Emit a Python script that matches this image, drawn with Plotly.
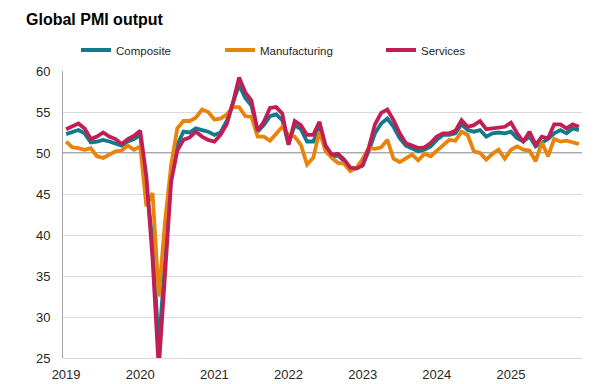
import plotly.graph_objects as go

# ---- data -------------------------------------------------------------
years = [2019, 2020, 2021, 2022, 2023, 2024, 2025]
month_names = ["Jan", "Feb", "Mar", "Apr", "May", "Jun",
               "Jul", "Aug", "Sep", "Oct", "Nov", "Dec"]
months = [f"{m} {y}" for y in years for m in month_names]
year_ticks = [f"Jan {y}" for y in years]
year_labels = [str(y) for y in years]

composite = [
    52.3, 52.6, 52.8, 52.4, 51.3, 51.4, 51.6, 51.4, 51.2, 50.9, 51.4, 51.7,
    52.2, 46.1, 39.4, 26.2, 36.3, 47.5, 51.0, 52.6, 52.5, 53.0, 52.8, 52.6,
    52.2, 52.5, 53.9, 56.0, 58.3, 56.7, 55.8, 52.6, 53.4, 54.5, 54.7, 54.0,
    51.1, 53.4, 52.9, 51.4, 51.4, 53.0, 50.6, 49.5, 49.7, 49.0, 48.1, 48.2,
    48.5, 50.3, 52.4, 53.6, 54.2, 53.2, 51.8, 50.9, 50.6, 50.2, 50.4, 50.8,
    51.6, 52.2, 52.2, 52.4, 53.5, 52.8, 52.6, 52.8, 52.0, 52.4, 52.5, 52.4,
    52.6, 51.8, 51.4, 52.0, 50.8, 51.2, 51.7, 52.4, 52.8, 52.4, 53.0, 52.8,
]
manufacturing = [
    51.4, 50.7, 50.6, 50.4, 50.6, 49.6, 49.4, 49.8, 50.2, 50.3, 50.9, 50.4,
    50.8, 43.5, 45.1, 32.5, 41.5, 48.5, 53.0, 53.9, 53.9, 54.3, 55.3, 55.0,
    54.1, 54.2, 54.7, 55.6, 55.6, 54.5, 54.4, 52.0, 52.0, 51.5, 52.3, 53.2,
    52.2, 52.0, 51.0, 48.6, 49.4, 52.6, 50.2, 49.4, 48.8, 48.7, 47.8, 48.2,
    49.3, 50.6, 50.5, 50.7, 51.6, 49.3, 48.9, 49.4, 49.8, 49.1, 49.9, 49.6,
    50.3, 51.0, 51.6, 51.5, 52.6, 52.2, 50.2, 50.0, 49.2, 49.9, 50.4, 49.3,
    50.4, 50.8, 50.4, 50.3, 49.0, 51.3, 49.6, 51.7, 51.4, 51.5, 51.3, 51.1,
]
services = [
    52.9, 53.3, 53.6, 53.0, 51.7, 52.0, 52.5, 52.0, 51.7, 51.1, 51.7, 52.1,
    52.7, 47.1, 37.0, 23.7, 35.0, 46.5, 50.3, 51.6, 51.9, 52.6, 52.0, 51.6,
    51.4, 52.2, 53.5, 56.1, 59.2, 57.4, 56.4, 52.7, 53.8, 55.5, 55.6, 54.8,
    51.0, 53.9, 53.4, 52.2, 52.2, 53.8, 50.9, 49.8, 49.9, 49.2, 48.2, 48.1,
    48.5, 50.7, 53.5, 54.9, 55.3, 54.0, 52.4, 51.2, 50.9, 50.6, 50.7, 51.2,
    52.0, 52.4, 52.4, 52.7, 54.0, 53.2, 53.4, 53.9, 52.9, 53.0, 53.1, 53.2,
    53.7, 52.4, 51.4, 52.6, 51.0, 52.0, 51.8, 53.5, 53.5, 53.0, 53.5, 53.2,
]

series_names = ["Composite", "Manufacturing", "Services"]
series_values = [composite, manufacturing, services]
series_colors = ["#117a8b", "#e8830c", "#c21e56"]
legend_ids = ["legend", "legend2", "legend3"]
legend_px = [68, 212, 373]  # left edge of each legend entry (figure pixels)

# the page adds an 8px body margin, so the figure is drawn 8px in from the corner
W, H = 593, 376
FONT = "Liberation Sans, Arial, sans-serif"

fig = go.Figure()
for name, vals, col, lg in zip(series_names, series_values, series_colors, legend_ids):
    fig.add_trace(go.Scatter(
        x=months, y=vals, name=name, mode="lines",
        line=dict(color=col, width=3.8),
        legend=lg, hoverinfo="skip",
    ))

legend_common = dict(
    orientation="h", xref="container", yref="container",
    xanchor="left", yanchor="middle", y=1 - 42 / H,
    bgcolor="rgba(0,0,0,0)", borderwidth=0,
    font=dict(family=FONT, size=11.5, color="#262626"),
    itemwidth=30,
)
layout_legends = {}
for lg, px in zip(legend_ids, legend_px):
    layout_legends[lg] = dict(legend_common, x=px / W)

fig.update_layout(
    width=W, height=H,
    paper_bgcolor="white", plot_bgcolor="white",
    margin=dict(l=55, r=19, t=63, b=26, autoexpand=False),
    showlegend=True,
    title=dict(
        text="<b>Global PMI output</b>",
        x=18 / W, xref="container", xanchor="left",
        y=1 - 11 / H, yref="container", yanchor="middle",
        font=dict(family=FONT, size=16, color="#000000"),
    ),
    xaxis=dict(
        type="category", categoryorder="array", categoryarray=months,
        range=[-0.5, len(months) - 0.5],
        tickmode="array", tickvals=year_ticks, ticktext=year_labels,
        showgrid=False, ticks="", showline=True, linecolor="#d9d9d9",
        linewidth=1, zeroline=False,
        tickfont=dict(family=FONT, size=13, color="#262626"),
        ticklabelstandoff=4,
    ),
    yaxis=dict(
        range=[25, 60], tickmode="linear", tick0=25, dtick=5,
        showgrid=True, gridcolor="#d9d9d9", gridwidth=1,
        showline=True, linecolor="#a6a6a6", linewidth=1,
        zeroline=False, ticks="",
        tickfont=dict(family=FONT, size=13, color="#262626"),
        ticklabelstandoff=9,
    ),
    **layout_legends,
)

# darker reference line at 50
fig.add_hline(y=50, line=dict(color="#8c8c8c", width=1.5), layer="below")

fig.write_html("out.html")
